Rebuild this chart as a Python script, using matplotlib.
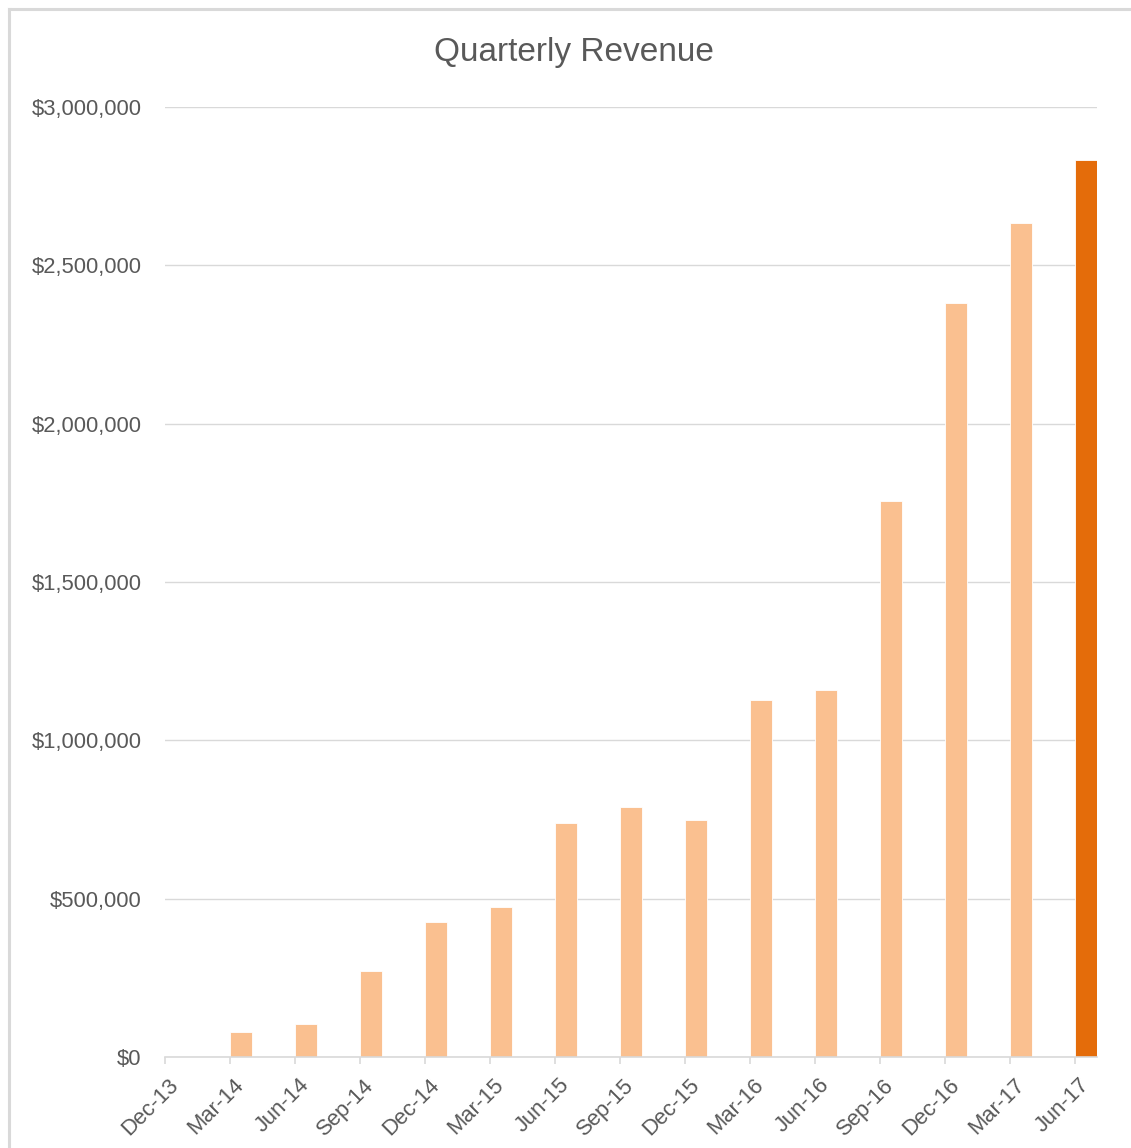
import matplotlib.pyplot as plt
from matplotlib.lines import Line2D
from matplotlib.ticker import FuncFormatter

quarters = ['Dec-13', 'Mar-14', 'Jun-14', 'Sep-14', 'Dec-14', 'Mar-15', 'Jun-15', 'Sep-15',
            'Dec-15', 'Mar-16', 'Jun-16', 'Sep-16', 'Dec-16', 'Mar-17', 'Jun-17']
revenue = [0, 79000, 104000, 272000, 426000, 474000, 739000, 789000,
           748000, 1127000, 1159000, 1756000, 2381000, 2634000, 2833000]
highlight = 'Jun-17'

light = '#FAC090'
dark = '#E46C0A'
grey_txt = '#595959'
grid_col = '#D9D9D9'

plt.rcParams['font.family'] = ['Liberation Sans', 'DejaVu Sans']

W, H = 1131, 1148
fig = plt.figure(figsize=(W / 100, H / 100), dpi=100)
ax = fig.add_axes([165 / W, 1 - 1057 / H, (1097 - 165) / W, (1057 - 107) / H])

# date axis in months: each quarter sits 3 months apart, bar is one month wide
months = [3 * i for i in range(len(quarters))]
colors = [dark if q == highlight else light for q in quarters]
ax.bar(months, revenue, width=1.0, align='edge', color=colors,
       edgecolor='white', linewidth=0.6, zorder=3)

ax.set_xlim(0, 3 * (len(quarters) - 1) + 1.0)
ax.set_ylim(0, 3000000)
ax.set_yticks(range(0, 3000001, 500000))
ax.yaxis.set_major_formatter(FuncFormatter(lambda v, p: f'${v:,.0f}'))
ax.grid(axis='y', color=grid_col, linewidth=1.0, zorder=0)

for s in ['top', 'right', 'left']:
    ax.spines[s].set_visible(False)
ax.spines['bottom'].set_color(grid_col)
ax.spines['bottom'].set_linewidth(1.2)
ax.spines['bottom'].set_zorder(4)

# tick marks at quarter start, labels at bar centers
ax.set_xticks(months)
ax.set_xticklabels([])
ax.tick_params(axis='x', which='major', length=5, width=1.2, color=grid_col)
ax.set_xticks([m + 0.5 for m in months], minor=True)
ax.set_xticklabels(quarters, minor=True, rotation=45, ha='right', va='center',
                   rotation_mode='anchor')
ax.tick_params(axis='x', which='minor', length=0, pad=18, labelsize=15.8, labelcolor=grey_txt)
ax.tick_params(axis='y', length=0, pad=17, labelsize=15.8, labelcolor=grey_txt)

fig.text(574 / W, 1 - 52 / H, 'Quarterly Revenue', ha='center', va='center',
         fontsize=24, color=grey_txt)

# outer chart border (only top and left visible in the crop)
bx, by = 9 / W, 1 - 9 / H
fig.add_artist(Line2D([bx, 1.0], [by, by], color=grid_col, linewidth=2.2))
fig.add_artist(Line2D([bx, bx], [0.0, by], color=grid_col, linewidth=2.2))

fig.savefig('out.png', dpi=100, facecolor='white')
